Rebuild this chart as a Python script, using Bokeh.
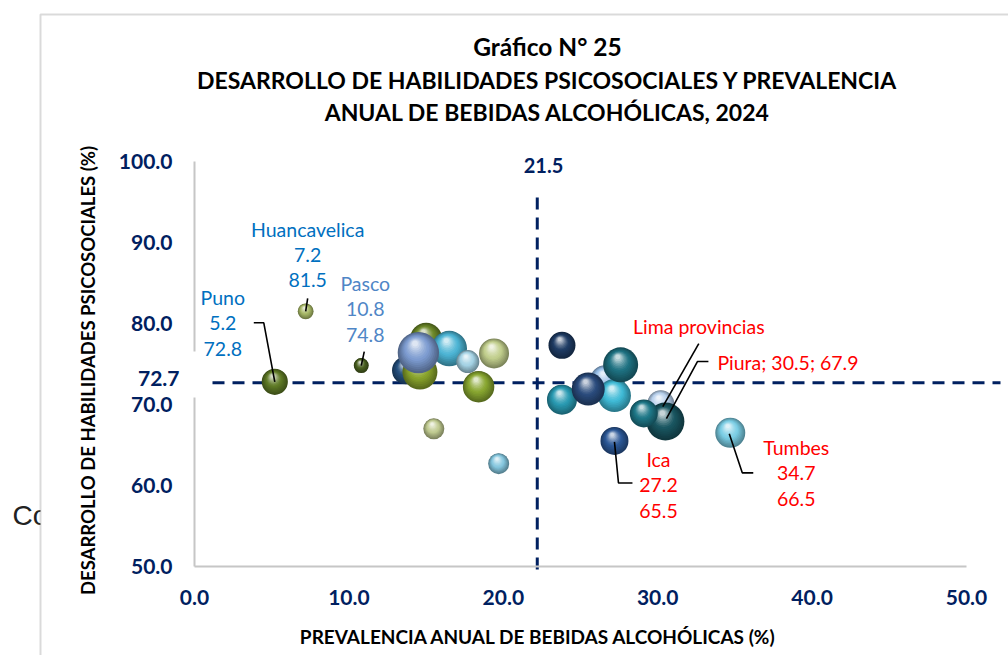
import math
from bokeh.plotting import figure
from bokeh.models import (Range1d, Label, BoxAnnotation, FixedTicker, NumeralTickFormatter,
                          ColumnDataSource)
from bokeh.embed import file_html
from bokeh.resources import INLINE

# ---------------- data (drawing order: back to front) ----------------
regions = ["Puno", "Huancavelica", "Pasco", "r4", "r5", "r6", "r7", "r8", "r9", "r10",
           "r11", "r12", "r13", "r14", "r15", "r16", "r17", "r18", "r19",
           "Lima provincias", "Piura", "r22", "Ica", "Tumbes"]
prevalencia = [5.2, 7.2, 10.8, 15.0, 13.7, 14.6, 16.5, 17.7, 14.5, 19.4,
               18.4, 15.5, 19.7, 23.8, 26.6, 27.2, 27.6, 23.8, 25.5,
               30.2, 30.5, 29.1, 27.2, 34.7]
habilidades = [72.8, 81.5, 74.8, 78.1, 74.2, 74.0, 76.9, 75.3, 76.4, 76.3,
               72.2, 67.0, 62.7, 77.3, 73.0, 71.1, 74.9, 70.6, 71.9,
               70.1, 67.9, 68.9, 65.5, 66.5]
bubble_value = [76, 28, 25, 114, 87, 136, 140, 59, 190, 100,
                110, 49, 49, 81, 100, 121, 136, 100, 121,
                81, 160, 87, 87, 100]
bubble_colors = ["#5f7a26", "#a7b866", "#4a6020", "#6b8728", "#25507e", "#89a42c",
                 "#4cb4d4", "#a4d2e4", "#7c9bd0", "#c1ce8c", "#88a630", "#c0ca90",
                 "#84c6de", "#1f3c64", "#96bee8", "#3fbad6", "#1e7181", "#299ab2",
                 "#2a4b7c", "#b7d0ec", "#195560", "#1e7787", "#2c5897", "#7acde4"]

x_ticks = [0, 10, 20, 30, 40, 50]
y_ticks = [50, 60, 70, 80, 90, 100]
avg_prevalencia_label = "21.5"
avg_prevalencia_line = 22.2     # position of the dashed vertical line as drawn
avg_habilidades = 72.7

title_lines = ["Gráfico N° 25",
               "DESARROLLO DE HABILIDADES PSICOSOCIALES Y PREVALENCIA",
               "ANUAL DE BEBIDAS ALCOHÓLICAS, 2024"]
x_title = "PREVALENCIA ANUAL DE BEBIDAS ALCOHÓLICAS (%)"
y_title = "DESARROLLO DE HABILIDADES PSICOSOCIALES (%)"

# ---------------- layout ----------------
W, H = 1008, 655
AX_LEFT, AX_BOTTOM = 194, 566  # page position of the axes origin (x=0, y=50)
SX = 15.44                     # px per x unit
SY = 8.1                       # px per y unit
X0 = x_ticks[0] - AX_LEFT / SX
X1 = x_ticks[0] + (W - AX_LEFT) / SX
Y0 = y_ticks[0] - (H - AX_BOTTOM) / SY
Y1 = y_ticks[0] + AX_BOTTOM / SY


def dx(page_x):
    return x_ticks[0] + (page_x - AX_LEFT) / SX


def dy(page_y):
    return y_ticks[0] + (AX_BOTTOM - page_y) / SY


p = figure(width=W, height=H, x_range=Range1d(X0, X1), y_range=Range1d(Y0, Y1),
           output_backend="svg", toolbar_location=None, title=None,
           min_border_left=0, min_border_right=0, min_border_top=0, min_border_bottom=0)
p.outline_line_color = None
p.xgrid.visible = False
p.ygrid.visible = False
p.background_fill_color = "white"
p.border_fill_color = "white"

# outside fragment + chart area frame
p.add_layout(Label(x=dx(12), y=dy(530), text="Co", text_font="Liberation Sans",
                   text_font_size="28px", text_color="#222222", level="underlay"))
p.add_layout(BoxAnnotation(left=dx(40), right=dx(1200), top=dy(14), bottom=dy(900),
                           fill_color="white", fill_alpha=1.0, line_color="#868686",
                           line_width=2, level="underlay"))

p.xaxis.fixed_location = y_ticks[0]
p.yaxis.fixed_location = x_ticks[0]
for ax, ticks, standoff in ((p.xaxis, x_ticks, 17), (p.yaxis, y_ticks, 16)):
    ax.ticker = FixedTicker(ticks=ticks)
    ax.formatter = NumeralTickFormatter(format="0.0")
    ax.bounds = (min(ticks), max(ticks))
    ax.axis_line_color = "#c6c6c6"
    ax.axis_line_width = 2
    ax.major_tick_line_color = None
    ax.minor_tick_line_color = None
    ax.major_label_text_font = "Lato"
    ax.major_label_text_font_style = "bold"
    ax.major_label_text_font_size = "21px"
    ax.major_label_text_color = "#002060"
    ax.major_label_standoff = standoff

# reference lines
navy = "#002060"
p.line([dx(212), dx(1000)], [avg_habilidades, avg_habilidades], line_color=navy,
       line_width=3, line_dash="12 8")
p.line([avg_prevalencia_line, avg_prevalencia_line], [dy(569), dy(190)], line_color=navy,
       line_width=3, line_dash="12 8")


# ---------------- 3D-looking bubbles ----------------
def h2r(h):
    h = h.lstrip("#")
    return tuple(int(h[i:i + 2], 16) for i in (0, 2, 4))


def r2h(c):
    return "#%02x%02x%02x" % tuple(max(0, min(255, int(round(v)))) for v in c)


def mix(a, b, t):
    return tuple(a[i] + (b[i] - a[i]) * t for i in range(3))


NL = 14
for xv, yv, val, col in zip(prevalencia, habilidades, bubble_value, bubble_colors):
    D = 3.0 * math.sqrt(val)
    c = h2r(col)
    edge = mix(c, (0, 0, 0), 0.35)
    hi = mix(c, (255, 255, 255), 0.75)
    xs, ys, ss, cs = [], [], [], []
    for k in range(NL):
        t = k / (NL - 1)
        d = D * (1 - 0.86 * t)
        ox = -0.08 * D * t
        oy = 0.22 * D * t
        if t < 0.45:
            cc = mix(edge, c, t / 0.45)
        else:
            cc = mix(c, hi, ((t - 0.45) / 0.55) ** 1.3)
        xs.append(xv + ox / SX)
        ys.append(yv + oy / SY)
        ss.append(d)
        cs.append(r2h(cc))
    src = ColumnDataSource(dict(x=xs, y=ys, s=ss, c=cs))
    p.scatter("x", "y", size="s", fill_color="c", line_color=None, marker="circle", source=src)

# ---------------- labels with leader lines ----------------
blue = "#0070c0"
blue2 = "#4f86c6"
red = "#ff0000"
# (region, color, leader offsets px, label offset px (first line), align)
callouts = [
    ("Puno", blue, [(0, 0), (-11, -59), (-21, -59)], (-52, -84), "center"),
    ("Huancavelica", blue, [(0, 0), (2, -13)], (2, -82), "center"),
    ("Pasco", blue2, [(0, 0), (3, -14)], (4, -82), "center"),
    ("Lima provincias", red, [(2, 3), (38, -60)], (38, -77), "center"),
    ("Piura", red, [(1, -3), (32, -60), (43, -60)], (52, -59), "left"),
    ("Ica", red, [(0, 1), (4, 42), (18, 42)], (44, 19), "center"),
    ("Tumbes", red, [(-1, 1), (12, 40), (23, 40)], (66, 15), "center"),
]
for name, colr, leader, (lx, ly), align in callouts:
    i = regions.index(name)
    xv, yv = prevalencia[i], habilidades[i]
    p.line([xv + a / SX for a, b in leader], [yv - b / SY for a, b in leader],
           line_color="black", line_width=1.6)
    if name == "Piura":
        lines = ["%s; %.1f; %.1f" % (name, xv, yv)]
    elif name == "Lima provincias":
        lines = [name]
    else:
        lines = [name, "%.1f" % xv, "%.1f" % yv]
    for j, txt in enumerate(lines):
        p.add_layout(Label(x=xv + lx / SX, y=yv - (ly + 25.5 * j) / SY, text=txt,
                           text_font="Lato", text_font_size="19.5px", text_color=colr,
                           text_align=align, text_baseline="middle"))

# gap in the y axis line behind the mean label, and the mean labels
p.add_layout(BoxAnnotation(left=dx(186), right=dx(201), top=dy(351), bottom=dy(397),
                           fill_color="white", fill_alpha=1.0, line_color=None))
p.add_layout(Label(x=dx(179), y=dy(378), text="%.1f" % avg_habilidades, text_font="Lato",
                   text_font_style="bold", text_font_size="21px", text_color=navy,
                   text_align="right", text_baseline="middle"))
p.add_layout(Label(x=dx(543), y=dy(165), text=avg_prevalencia_label, text_font="Lato",
                   text_font_style="bold", text_font_size="20px", text_color=navy,
                   text_align="center", text_baseline="middle"))

# titles
for txt, yy, fs in zip(title_lines, (46, 79, 111), ("24.5px", "23px", "23px")):
    p.add_layout(Label(x=dx(547), y=dy(yy), text=txt, text_font="Lato",
                       text_font_style="bold", text_font_size=fs, text_color="black",
                       text_align="center", text_baseline="middle"))
p.add_layout(Label(x=dx(538), y=dy(636), text=x_title, text_font="Lato",
                   text_font_style="bold", text_font_size="19px", text_color="black",
                   text_align="center", text_baseline="middle"))
p.add_layout(Label(x=dx(87), y=dy(370), text=y_title, text_font="Lato", angle=math.pi / 2,
                   text_font_style="bold", text_font_size="18.5px", text_color="black",
                   text_align="center", text_baseline="middle"))

open("out.html", "w").write(file_html(p, INLINE))
